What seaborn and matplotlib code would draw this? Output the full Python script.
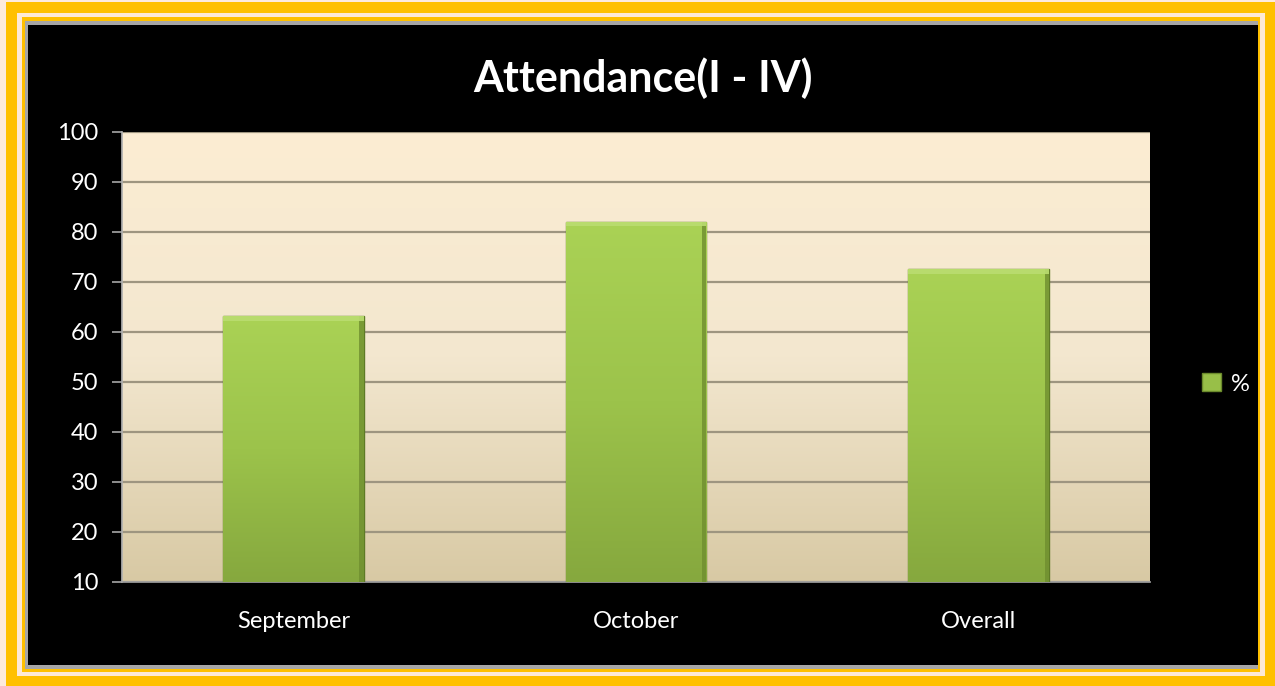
import matplotlib
matplotlib.use('Agg')
import matplotlib.pyplot as plt
from matplotlib.patches import Rectangle, Patch
from matplotlib.colors import LinearSegmentedColormap
import seaborn as sns
import pandas as pd
import numpy as np

# data
months = ['September', 'October', 'Overall']
attendance = [63.2, 82.1, 72.6]
series_name = '%'
title = 'Attendance(I - IV)'

df = pd.DataFrame({'month': months, 'pct': attendance})

sns.set_theme(style='white')
plt.rcParams['font.family'] = ['Lato', 'DejaVu Sans']

W, H = 1275, 686
fig = plt.figure(figsize=(W / 100, H / 100), dpi=100)
fig.patch.set_facecolor('#FDEBDD')

# nested frame: gold / cream / gold / grey / black  (pixel boxes x0, y0, x1, y1)
def frame(x0, y0, x1, y1, color):
    fig.patches.append(Rectangle((x0 / W, 1 - y1 / H), (x1 - x0) / W, (y1 - y0) / H,
                                 transform=fig.transFigure, facecolor=color,
                                 edgecolor='none', zorder=-10))

frame(6, 2, 1275, 686, '#FFC000')
frame(17, 13, 1265, 676, '#FDE9D6')
frame(22, 17, 1260, 672, '#FFC000')
frame(25, 21, 1258, 669, '#A6A6A6')
frame(28, 25, 1258, 665, '#000000')

ax = fig.add_axes([122 / W, 1 - 582 / H, 1028 / W, 450 / H])
ax.set_facecolor('none')

# cream background gradient
bg = LinearSegmentedColormap.from_list('bg', ['#D8C9A4', '#F3E7CF', '#FCEDD3'])
ax.imshow(np.linspace(0, 1, 256).reshape(-1, 1), cmap=bg, origin='lower',
          extent=(-0.5, 2.5, 10, 100), aspect='auto', zorder=0)

sns.barplot(data=df, x='month', y='pct', color='#98BF48', width=0.41,
            edgecolor='#5E7A26', linewidth=1, ax=ax, zorder=3)

# green gradient inside each bar, with a bevelled top and shaded right edge
green = LinearSegmentedColormap.from_list('gr', ['#86A83E', '#9CC34B', '#AAD255'])
for p in list(ax.patches):
    x0, w, h = p.get_x(), p.get_width(), p.get_height()
    im = ax.imshow(np.linspace(0, 1, 256).reshape(-1, 1), cmap=green, origin='lower',
                   extent=(x0, x0 + w, 10, h), aspect='auto', zorder=3.5)
    im.set_clip_path(p)
    ax.add_patch(Rectangle((x0 + w * 0.97, 10), w * 0.03, h - 10, facecolor='#6F8E2F',
                           edgecolor='none', zorder=3.6, alpha=0.8))
    ax.add_patch(Rectangle((x0, h - 0.9), w, 0.9, facecolor='#BADD70',
                           edgecolor='none', zorder=3.7, alpha=0.9))

ax.set_xlim(-0.5, 2.5)
ax.set_ylim(10, 100)
ax.set_yticks(range(10, 101, 10))
ax.yaxis.grid(True, color='#9E9580', linewidth=1.6)
ax.set_axisbelow(True)
for line in ax.get_ygridlines():
    line.set_zorder(1)

ax.set_xlabel('')
ax.set_ylabel('')
ax.set_xticks([-0.5, 0.5, 1.5, 2.5], minor=True)
ax.tick_params(axis='x', which='major', length=0, pad=21, labelsize=17, labelcolor='white')
ax.tick_params(axis='x', which='minor', length=7, color='#A0A0A0', direction='out')
ax.tick_params(axis='y', length=7, color='#A0A0A0', direction='out', pad=10,
               labelsize=17, labelcolor='white', left=True)

for s in ['top', 'right']:
    ax.spines[s].set_visible(False)
ax.spines['left'].set_color('#B0B0B0')
ax.spines['bottom'].set_color('#A0A0A0')

fig.text(643 / W, 1 - 78 / H, title, ha='center', va='center', color='white',
         fontsize=31, fontweight='bold')

fig.legend(handles=[Patch(facecolor='#98BF48', edgecolor='#6B8A2C', label=series_name)],
           loc='center left', bbox_to_anchor=(1181 / W, 1 - 384 / H), frameon=False,
           fontsize=17, labelcolor='white', handlelength=0.8, handleheight=0.8,
           handletextpad=0.4)

fig.savefig('out.png', dpi=100, facecolor=fig.get_facecolor())
